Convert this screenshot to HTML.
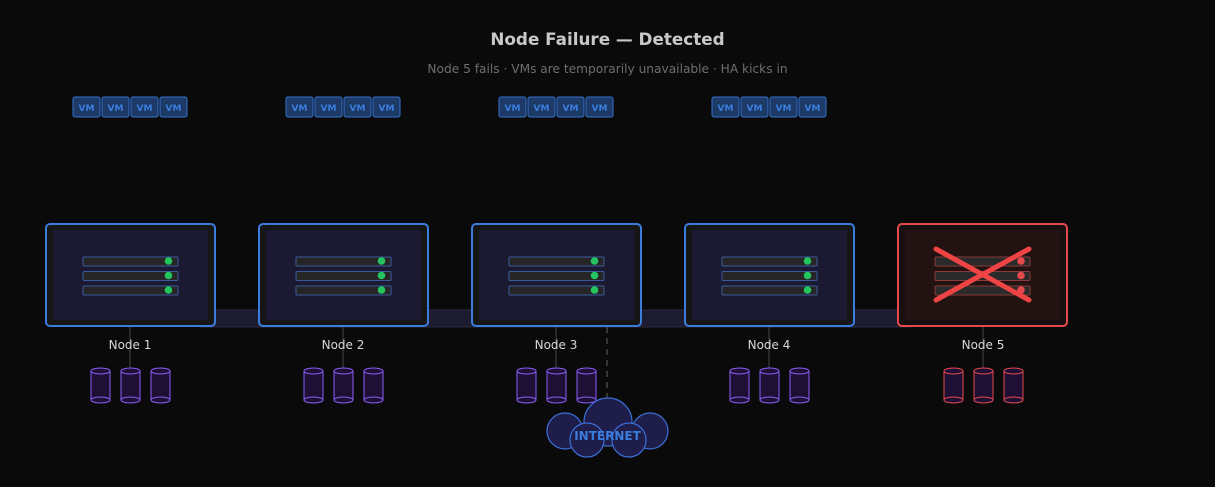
<!DOCTYPE html>
<html><head><style>
html,body{margin:0;padding:0;background:#0a0a0a;}
svg{display:block;font-family:"DejaVu Sans","Liberation Sans",sans-serif;}
</style></head><body>
<svg width="1215" height="487" viewBox="0 0 1215 487" xmlns="http://www.w3.org/2000/svg">
<rect width="1215" height="487" fill="#0a0a0a"/>
<text x="607.5" y="45" text-anchor="middle" font-size="16.8" font-weight="bold" fill="#c8c8c8">Node Failure — Detected</text>
<text x="607.5" y="73" text-anchor="middle" font-size="12.2" fill="#6e6e6e">Node 5 fails · VMs are temporarily unavailable · HA kicks in</text>

<rect x="200" y="310" width="710" height="17" fill="#1c1b30" stroke="#2a2a40" stroke-width="1"/>

<defs>
<g id="vms">
  <g font-size="9" font-weight="bold" fill="#3b7ddd" text-anchor="middle">
  <rect x="-57" y="97" width="27" height="20" rx="2" fill="#1d3a66" stroke="#3572cf"/><text x="-43.5" y="111">VM</text>
  <rect x="-28" y="97" width="27" height="20" rx="2" fill="#1d3a66" stroke="#3572cf"/><text x="-14.5" y="111">VM</text>
  <rect x="1" y="97" width="27" height="20" rx="2" fill="#1d3a66" stroke="#3572cf"/><text x="14.5" y="111">VM</text>
  <rect x="30" y="97" width="27" height="20" rx="2" fill="#1d3a66" stroke="#3572cf"/><text x="43.5" y="111">VM</text>
  </g>
</g>
<g id="nb">
 <line x1="130" y1="326" x2="130" y2="372" stroke="#333" stroke-width="1.5"/>
 <rect x="46" y="224" width="169" height="102" rx="4" fill="#161616" stroke="#3b7ddd" stroke-width="2"/>
 <rect x="53" y="230" width="155" height="90" fill="#1c1a33"/>
 <g stroke="#3a5a9a" fill="#262626"><rect x="83" y="257" width="95" height="9" rx="1"/><rect x="83" y="271.5" width="95" height="9" rx="1"/><rect x="83" y="286" width="95" height="9" rx="1"/></g>
 <g fill="#22c55e"><circle cx="168.5" cy="261" r="3.8"/><circle cx="168.5" cy="275.5" r="3.8"/><circle cx="168.5" cy="290" r="3.8"/></g>
 <g fill="#1e1035" stroke="#8b5cf6" stroke-width="1">
  <rect x="91" y="371" width="19" height="29"/><ellipse cx="100.5" cy="371" rx="9.5" ry="3"/><ellipse cx="100.5" cy="400" rx="9.5" ry="3"/>
  <rect x="121" y="371" width="19" height="29"/><ellipse cx="130.5" cy="371" rx="9.5" ry="3"/><ellipse cx="130.5" cy="400" rx="9.5" ry="3"/>
  <rect x="151" y="371" width="19" height="29"/><ellipse cx="160.5" cy="371" rx="9.5" ry="3"/><ellipse cx="160.5" cy="400" rx="9.5" ry="3"/>
 </g>
</g>
</defs>

<use href="#vms" x="130"/><use href="#vms" x="343"/><use href="#vms" x="556"/><use href="#vms" x="769"/>
<use href="#nb"/><use href="#nb" x="213"/><use href="#nb" x="426"/><use href="#nb" x="639"/>
<line x1="607" y1="327" x2="607" y2="398" stroke="#444" stroke-width="1.5" stroke-dasharray="6,5"/>

<line x1="983" y1="326" x2="983" y2="372" stroke="#333" stroke-width="1.5"/>
<rect x="898" y="224" width="169" height="102" rx="4" fill="#161010" stroke="#e5484d" stroke-width="2"/>
<rect x="905" y="230" width="155" height="90" fill="#221212"/>
<g stroke="#8a3a3a" fill="#2a2a2a"><rect x="935" y="257" width="95" height="9" rx="1"/><rect x="935" y="271.5" width="95" height="9" rx="1"/><rect x="935" y="286" width="95" height="9" rx="1"/></g>
<g fill="#e5484d"><circle cx="1021" cy="261" r="3.8"/><circle cx="1021" cy="275.5" r="3.8"/><circle cx="1021" cy="290" r="3.8"/></g>
<g stroke="#ef4444" stroke-width="5" stroke-linecap="round"><line x1="936" y1="249" x2="1029" y2="300"/><line x1="1029" y1="249" x2="936" y2="300"/></g>
<g fill="#1e1035" stroke="#e5484d" stroke-width="1">
 <rect x="944" y="371" width="19" height="29"/><ellipse cx="953.5" cy="371" rx="9.5" ry="3"/><ellipse cx="953.5" cy="400" rx="9.5" ry="3"/>
 <rect x="974" y="371" width="19" height="29"/><ellipse cx="983.5" cy="371" rx="9.5" ry="3"/><ellipse cx="983.5" cy="400" rx="9.5" ry="3"/>
 <rect x="1004" y="371" width="19" height="29"/><ellipse cx="1013.5" cy="371" rx="9.5" ry="3"/><ellipse cx="1013.5" cy="400" rx="9.5" ry="3"/>
</g>

<g font-size="12" fill="#d8d8d8" text-anchor="middle">
 <text x="130" y="349">Node 1</text>
 <text x="343" y="349">Node 2</text>
 <text x="556" y="349">Node 3</text>
 <text x="769" y="349">Node 4</text>
 <text x="983" y="349">Node 5</text>
</g>

<g fill="#1f1d4a" stroke="#3b6fd8" stroke-width="1.2">
 <circle cx="565" cy="431" r="18"/><circle cx="650" cy="431" r="18"/>
 <circle cx="608" cy="422" r="24"/>
 <circle cx="587" cy="440" r="17"/><circle cx="629" cy="440" r="17"/>
</g>
<text x="607.5" y="440" text-anchor="middle" font-size="12" font-weight="bold" fill="#3b7ddd">INTERNET</text>
</svg>
</body></html>
